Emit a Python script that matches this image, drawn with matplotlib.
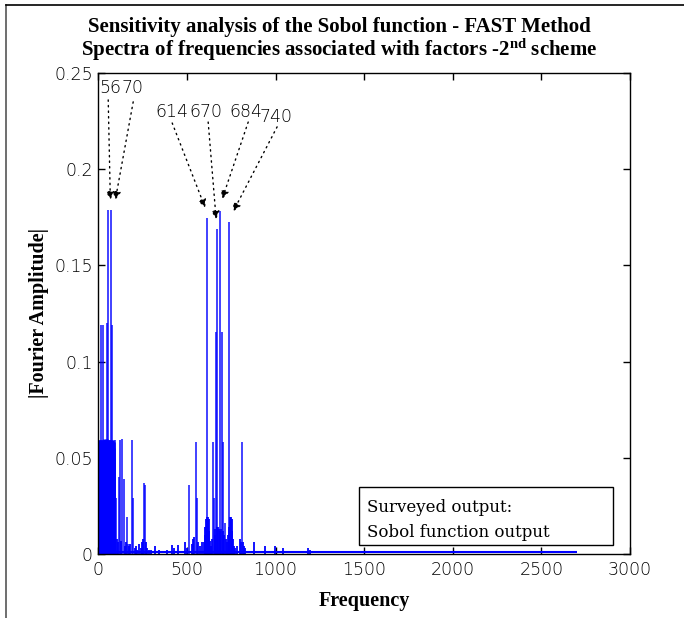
import matplotlib

matplotlib.use("Agg")
import matplotlib.pyplot as plt
from matplotlib.patches import Rectangle
from matplotlib.lines import Line2D

plt.rcParams["mathtext.fontset"] = "custom"
plt.rcParams["mathtext.rm"] = "Liberation Serif"
plt.rcParams["mathtext.bf"] = "Liberation Serif:bold"

# main spectral lines (frequency, |Fourier amplitude|)
peak_freq = [14, 28, 48, 56, 70, 80, 94, 100, 117, 123, 136, 143, 160, 170,
             189, 198, 256, 262, 514, 550, 556, 614, 646, 652, 664, 670,
             684, 698, 706, 716, 740, 810]
peak_amp = [0.119, 0.119, 0.120, 0.179, 0.179, 0.119, 0.059, 0.029, 0.040,
            0.059, 0.060, 0.039, 0.019, 0.005, 0.059, 0.029, 0.037, 0.036,
            0.036, 0.058, 0.029, 0.1745, 0.058, 0.029, 0.1155, 0.169,
            0.1785, 0.1155, 0.058, 0.016, 0.1727, 0.058]

# dense block of harmonics at low frequency
dense_freq = [2, 4, 6, 8, 10, 12, 16, 18, 20, 22, 24, 26, 30, 32, 34, 36,
              38, 40, 42, 44, 46, 50, 52, 54, 58, 60, 62, 64, 66, 68, 72,
              74, 76, 78, 82, 84, 86, 88, 90]
dense_amp = [0.058, 0.059, 0.059, 0.058, 0.059, 0.058, 0.059, 0.059, 0.058,
             0.059, 0.058, 0.059, 0.060, 0.059, 0.058, 0.059, 0.059, 0.058,
             0.059, 0.059, 0.060, 0.060, 0.059, 0.058, 0.059, 0.059, 0.058,
             0.059, 0.058, 0.059, 0.059, 0.058, 0.059, 0.058, 0.059, 0.058,
             0.058, 0.055, 0.050]

# side bands around the 614 and 740 lines
cluster_freq = [596, 600, 604, 608, 612, 618, 622, 626, 630, 636, 640, 656,
                660, 668, 676, 680, 688, 692, 702, 710, 720, 726, 732, 736,
                744, 748, 752, 756, 760, 766, 770]
cluster_amp = [0.006, 0.010, 0.014, 0.018, 0.019, 0.019, 0.018, 0.012,
               0.007, 0.004, 0.008, 0.010, 0.013, 0.014, 0.014, 0.013,
               0.012, 0.013, 0.012, 0.010, 0.008, 0.006, 0.010, 0.014,
               0.019, 0.019, 0.018, 0.012, 0.008, 0.004, 0.003]

# small residual lines
small_freq = [104, 110, 128, 150, 155, 176, 180, 205, 212, 220, 230, 240,
              248, 252, 268, 275, 285, 300, 320, 340, 390, 418, 425, 452,
              490, 500, 527, 535, 540, 565, 575, 588, 785, 800, 805, 815,
              820, 830, 876, 938, 998, 1043, 1185, 1196]
small_amp = [0.008, 0.006, 0.007, 0.004, 0.006, 0.004, 0.005, 0.003, 0.004,
             0.002, 0.005, 0.003, 0.006, 0.008, 0.006, 0.003, 0.002, 0.002,
             0.004, 0.002, 0.002, 0.0045, 0.003, 0.0045, 0.006, 0.003,
             0.005, 0.008, 0.009, 0.006, 0.004, 0.0064, 0.004, 0.008, 0.006,
             0.006, 0.004, 0.003, 0.0064, 0.004, 0.004, 0.003, 0.003, 0.002]

# spectrum floor up to the last computed frequency
floor_freq = [0, 2700]
floor_amp = [0.0008, 0.0008]

# labelled frequencies: text position, arrow tail and arrow tip
label_text = ["56", "70", "614", "670", "684", "740"]
label_x = [65, 192, 417, 609, 835, 1004]
label_y = [0.242, 0.242, 0.2297, 0.2297, 0.2297, 0.227]
tail_x = [56, 197, 417, 620, 846, 1009]
tail_y = [0.236, 0.235, 0.224, 0.2245, 0.2245, 0.222]
tip_x = [68, 96, 603, 665, 699, 761]
tip_y = [0.184, 0.184, 0.180, 0.174, 0.1845, 0.178]

x_ticks = [0, 500, 1000, 1500, 2000, 2500, 3000]
y_ticks = [0, 0.05, 0.1, 0.15, 0.2, 0.25]
y_tick_labels = ["0", "0.05", "0.1", "0.15", "0.2", "0.25"]

tick_font = {"family": "DejaVu Sans", "size": 12.5, "weight": "light",
             "color": "black"}
serif_bold = {"family": "Liberation Serif", "weight": "bold"}

fig = plt.figure(figsize=(6.84, 6.18), dpi=100)
ax = fig.add_axes([0.1437, 0.1036, 0.7773, 0.7783])

blue = "#0000ff"
ax.vlines(dense_freq, 0, dense_amp, color=blue, lw=1.8)
for fr, am in [(cluster_freq, cluster_amp), (small_freq, small_amp)]:
    ax.vlines(fr, 0, am, color=blue, lw=1.3)
ax.vlines(peak_freq, 0, peak_amp, color=blue, lw=1.3, alpha=0.8)
ax.plot(floor_freq, floor_amp, color=blue, lw=1.5, solid_capstyle="butt")

for i in range(len(label_text)):
    ax.text(label_x[i], label_y[i], label_text[i], ha="center", va="center",
            fontdict=tick_font)
    ax.annotate("", xy=(tip_x[i], tip_y[i]), xytext=(tail_x[i], tail_y[i]),
                arrowprops=dict(arrowstyle="-|>", linestyle=(0, (1, 3)),
                                color="black", lw=1.0, mutation_scale=12,
                                shrinkA=0, shrinkB=0))

ax.set_xlim(0, 3000)
ax.set_ylim(0, 0.25)
ax.set_xticks(x_ticks)
ax.set_xticklabels([str(t) for t in x_ticks], fontdict=tick_font)
ax.set_yticks(y_ticks)
ax.set_yticklabels(y_tick_labels, fontdict=tick_font)
ax.tick_params(direction="in", length=5, width=1, top=True, right=True,
               pad=5)
ax.tick_params(axis="y", pad=4)
for sp in ax.spines.values():
    sp.set_linewidth(1.0)

ax.set_xlabel("Frequency", fontdict=serif_bold, fontsize=14.5, labelpad=9)
ax.set_ylabel("|Fourier Amplitude|", fontdict=serif_bold, fontsize=14.5,
              labelpad=4)

box = Rectangle((0.4906, 0.0187), 0.4774, 0.1206, transform=ax.transAxes,
                facecolor="white", edgecolor="black", lw=1.0, zorder=5)
ax.add_patch(box)
ax.text(0.506, 0.0707, "Surveyed output:\nSobol function output",
        transform=ax.transAxes, ha="left", va="center", family="DejaVu Serif",
        fontsize=12, linespacing=1.55, zorder=6)

fig.text(0.496, 0.956, "Sensitivity analysis of the Sobol function - FAST Method",
         ha="center", va="center", fontsize=15, **serif_bold)
fig.text(0.496, 0.920,
         r"Spectra of frequencies associated with factors -$\mathbf{2^{nd}}$ scheme",
         ha="center", va="center", fontsize=15, **serif_bold)

# page frame on left and top
fig.add_artist(Line2D([0.0095, 0.0095], [0, 0.992], transform=fig.transFigure,
                      color="#555555", lw=1.2))
fig.add_artist(Line2D([0.0095, 1.0], [0.992, 0.992], transform=fig.transFigure,
                      color="black", lw=1.2))

fig.savefig("out.png", dpi=100)
